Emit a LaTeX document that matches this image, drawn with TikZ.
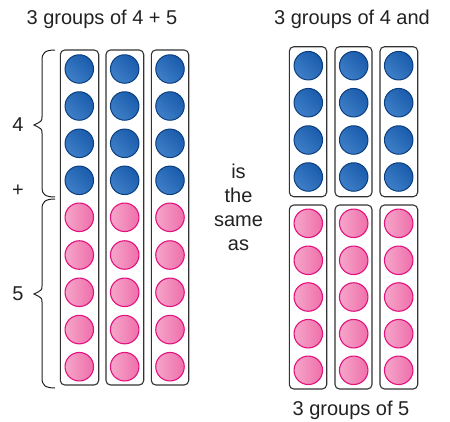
\documentclass[tikz,border=0pt]{standalone}
\usepackage{fontspec}
\setmainfont{Liberation Sans}
\usetikzlibrary{shadings}
\definecolor{bluefill}{HTML}{1A5CAC}
\definecolor{bluelight}{HTML}{3F7FC8}
\definecolor{blueline}{HTML}{0B3E7E}
\definecolor{pinkfill}{HTML}{EE6FAA}
\definecolor{pinklight}{HTML}{F6A6CA}
\definecolor{pinkline}{HTML}{E2127F}
\definecolor{boxline}{HTML}{333333}
\definecolor{txt}{HTML}{222222}
\tikzset{
  groupbox/.style={draw=boxline, line width=1.1pt, rounded corners=4.5pt},
  bluedot/.style={circle, minimum size=28.5pt, inner sep=0pt, draw=blueline, line width=1pt,
     left color=bluelight, right color=bluefill, shading angle=135},
  pinkdot/.style={circle, minimum size=28.5pt, inner sep=0pt, draw=pinkline, line width=1.1pt,
     left color=pinklight, right color=pinkfill},
  lbl/.style={font=\fontsize{20}{24}\selectfont, text=txt, inner sep=0pt},
  bracestyle/.style={draw=txt, line width=1pt},
}
\begin{document}
\begin{tikzpicture}[x=1pt,y=-1pt]
\useasboundingbox (0,0) rectangle (450,421);
% titles
\node[lbl] (t1) at (102,19) {3 groups of 4 + 5};
\node[lbl] (t2) at (352,19) {3 groups of 4 and};
\node[lbl] (t3) at (351,410) {3 groups of 5};
% middle text
\node[lbl, align=center] (mid) at (238.5,207.5) {is\\the\\same\\as};
% left panel boxes
\foreach \i/\xl/\xr in {1/60.3/98.7, 2/106/143.7, 3/151.3/188.7}{
  \draw[groupbox] (\xl,50) rectangle (\xr,385);
}
\foreach \i/\cx in {1/79.3, 2/124.7, 3/170}{
  \foreach \j/\cy in {1/69, 2/106, 3/143.3, 4/180.3}{
    \node[bluedot] (lb\i\j) at (\cx,\cy) {};
  }
  \foreach \j/\cy in {1/217.3, 2/255, 3/292.3, 4/329.6, 5/366.7}{
    \node[pinkdot] (lp\i\j) at (\cx,\cy) {};
  }
}
% right panel boxes
\foreach \i/\xl/\xr in {1/289.3/326.7, 2/335/372, 3/380/417.7}{
  \draw[groupbox] (\xl,46.7) rectangle (\xr,196.7);
  \draw[groupbox] (\xl,205) rectangle (\xr,389);
}
\foreach \i/\cx in {1/308.3, 2/353.7, 3/398.7}{
  \foreach \j/\cy in {1/65.7, 2/102.7, 3/140, 4/177}{
    \node[bluedot] (rb\i\j) at (\cx,\cy) {};
  }
  \foreach \j/\cy in {1/223.3, 2/260.3, 3/297, 4/333.7, 5/370.3}{
    \node[pinkdot] (rp\i\j) at (\cx,\cy) {};
  }
}
% braces
\draw[bracestyle] (55,50) .. controls (45,50) and (42,53) .. (42,60)
  -- (42,117) .. controls (42,121) .. (34,125) .. controls (42,129) .. (42,133)
  -- (42,188) .. controls (42,194) and (45,197) .. (55,197);
\draw[bracestyle] (55,199) .. controls (45,199) and (42,202) .. (42,209)
  -- (42,286) .. controls (42,290) .. (34,294) .. controls (42,298) .. (42,302)
  -- (42,378) .. controls (42,385) and (45,388) .. (55,388);
\node[lbl] (l4) at (18,125) {4};
\node[lbl] (lplus) at (18,191) {+};
\node[lbl] (l5) at (18,294) {5};
\end{tikzpicture}
\end{document}
